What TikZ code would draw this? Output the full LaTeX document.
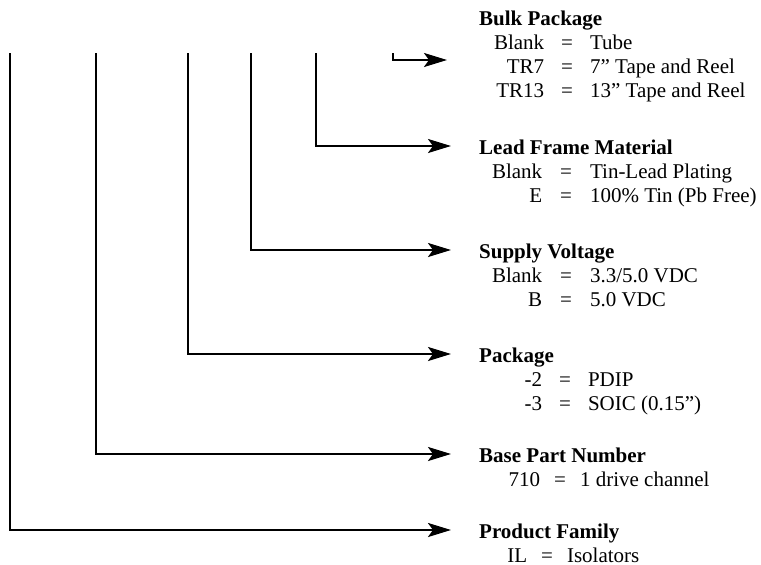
\documentclass[tikz,border=0pt]{standalone}
\usepackage{fontspec}
\setmainfont{Liberation Serif}
\usetikzlibrary{arrows.meta}
\tikzset{
	pointer/.style={line width=2.3pt, -{Stealth[length=23pt,width=14pt,inset=5pt]}},
	field/.style={anchor=base west, inner sep=0pt, font=\fontsize{21}{24}\selectfont},
}
% key, equals sign and meaning on one line
\newcommand{\kv}[4]{\makebox[#1][r]{#3}\hspace{#2}=\hspace{#2}#4}
\begin{document}
\begin{tikzpicture}[x=1pt,y=-1pt]
	\useasboundingbox (0,0) rectangle (761,565);

	%Tops of the lines
	\coordinate (product-top) at (10,53);
	\coordinate (base-top) at (96,53);
	\coordinate (package-top) at (188,53);
	\coordinate (supply-top) at (251,53);
	\coordinate (frame-top) at (316,53);
	\coordinate (bulk-top) at (393,53);
	%Arrow tips
	\coordinate (product-tip) at (451,530);
	\coordinate (base-tip) at (451,454);
	\coordinate (package-tip) at (451,354);
	\coordinate (supply-tip) at (451,250);
	\coordinate (frame-tip) at (451,146);
	\coordinate (bulk-tip) at (447,60);

	%Connectors
	\draw [pointer] (product-top) |- (product-tip);
	\draw [pointer] (base-top) |- (base-tip);
	\draw [pointer] (package-top) |- (package-tip);
	\draw [pointer] (supply-top) |- (supply-tip);
	\draw [pointer] (frame-top) |- (frame-tip);
	\draw [pointer] (bulk-top) |- (bulk-tip);

	%Bulk package
	\node [field] (bulk) at ([xshift=32pt,yshift=35pt]bulk-tip) {\begin{tabular}[t]{@{}l@{}}
		\textbf{Bulk Package}\\
		\kv{65pt}{17pt}{Blank}{Tube}\\
		\kv{65pt}{17pt}{TR7}{7'' Tape and Reel}\\
		\kv{65pt}{17pt}{TR13}{13'' Tape and Reel}
	\end{tabular}};
	%Lead frame material
	\node [field] (frame) at ([xshift=28pt,yshift=-8pt]frame-tip) {\begin{tabular}[t]{@{}l@{}}
		\textbf{Lead Frame Material}\\
		\kv{63pt}{18pt}{Blank}{Tin-Lead Plating}\\
		\kv{63pt}{18pt}{E}{100\% Tin (Pb Free)}
	\end{tabular}};
	%Supply voltage
	\node [field] (supply) at ([xshift=28pt,yshift=-8pt]supply-tip) {\begin{tabular}[t]{@{}l@{}}
		\textbf{Supply Voltage}\\
		\kv{63pt}{18pt}{Blank}{3.3/5.0 VDC}\\
		\kv{63pt}{18pt}{B}{5.0 VDC}
	\end{tabular}};
	%Package
	\node [field] (package) at ([xshift=28pt,yshift=-8pt]package-tip) {\begin{tabular}[t]{@{}l@{}}
		\textbf{Package}\\
		\kv{63pt}{17pt}{-2}{PDIP}\\
		\kv{63pt}{17pt}{-3}{SOIC (0.15'')}
	\end{tabular}};
	%Base part number
	\node [field] (base) at ([xshift=28pt,yshift=-8pt]base-tip) {\begin{tabular}[t]{@{}l@{}}
		\textbf{Base Part Number}\\
		\kv{61pt}{14pt}{710}{1 drive channel}
	\end{tabular}};
	%Product family
	\node [field] (product) at ([xshift=28pt,yshift=-8pt]product-tip) {\begin{tabular}[t]{@{}l@{}}
		\textbf{Product Family}\\
		\kv{48pt}{14pt}{IL}{Isolators}
	\end{tabular}};
\end{tikzpicture}
\end{document}
